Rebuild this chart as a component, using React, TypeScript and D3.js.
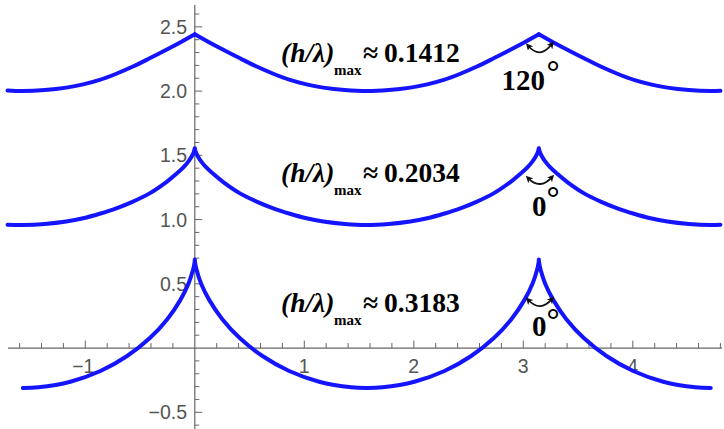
import React from "react";
import * as d3 from "d3";

// ---- data ----
const topX = [-1.71, -1.571, -1.37, -1.174, -1.02, -0.869, -0.717, -0.565, -0.413, -0.26, -0.13, 0, 0.13, 0.26, 0.413, 0.565, 0.717, 0.869, 1.02, 1.174, 1.37, 1.571, 1.772, 1.968, 2.122, 2.273, 2.425, 2.577, 2.729, 2.882, 3.012, 3.142, 3.272, 3.402, 3.555, 3.707, 3.859, 4.011, 4.162, 4.316, 4.512, 4.712, 4.8];
const topY = [2.004, 2.0, 2.008, 2.027, 2.052, 2.087, 2.135, 2.191, 2.255, 2.322, 2.381, 2.443, 2.381, 2.322, 2.255, 2.191, 2.135, 2.087, 2.052, 2.027, 2.008, 2.0, 2.008, 2.027, 2.052, 2.087, 2.135, 2.191, 2.255, 2.322, 2.381, 2.443, 2.381, 2.322, 2.255, 2.191, 2.135, 2.087, 2.052, 2.027, 2.008, 2.0, 2.002];

const midX = [-1.71, -1.571, -1.37, -1.174, -1.02, -0.869, -0.717, -0.565, -0.413, -0.26, -0.16, -0.1, -0.056, -0.026, -0.008, 0, 0.008, 0.026, 0.056, 0.1, 0.16, 0.26, 0.413, 0.565, 0.717, 0.869, 1.02, 1.174, 1.37, 1.571, 1.772, 1.968, 2.122, 2.273, 2.425, 2.577, 2.729, 2.882, 2.982, 3.042, 3.086, 3.116, 3.134, 3.142, 3.15, 3.168, 3.198, 3.242, 3.302, 3.402, 3.555, 3.707, 3.859, 4.011, 4.162, 4.316, 4.512, 4.712, 4.8];
const midY = [0.96, 0.958, 0.966, 0.985, 1.01, 1.045, 1.087, 1.14, 1.204, 1.292, 1.362, 1.41, 1.455, 1.495, 1.528, 1.555, 1.528, 1.495, 1.455, 1.41, 1.362, 1.292, 1.204, 1.14, 1.087, 1.045, 1.01, 0.985, 0.966, 0.958, 0.966, 0.985, 1.01, 1.045, 1.087, 1.14, 1.204, 1.292, 1.362, 1.41, 1.455, 1.495, 1.528, 1.555, 1.528, 1.495, 1.455, 1.41, 1.362, 1.292, 1.204, 1.14, 1.087, 1.045, 1.01, 0.985, 0.966, 0.958, 0.96];

const botX = [-1.571, -1.429, -1.136, -0.862, -0.618, -0.413, -0.251, -0.134, -0.058, -0.018, -0.002, 0, 0.002, 0.018, 0.058, 0.134, 0.251, 0.413, 0.618, 0.862, 1.136, 1.429, 1.571, 1.713, 2.006, 2.28, 2.524, 2.729, 2.891, 3.008, 3.084, 3.124, 3.14, 3.142, 3.144, 3.16, 3.2, 3.276, 3.393, 3.555, 3.76, 4.004, 4.278, 4.571, 4.712];
const botY = [-0.31, -0.305, -0.262, -0.179, -0.062, 0.076, 0.225, 0.371, 0.501, 0.603, 0.668, 0.69, 0.668, 0.603, 0.501, 0.371, 0.225, 0.076, -0.062, -0.179, -0.262, -0.305, -0.31, -0.305, -0.262, -0.179, -0.062, 0.076, 0.225, 0.371, 0.501, 0.603, 0.668, 0.69, 0.668, 0.603, 0.501, 0.371, 0.225, 0.076, -0.062, -0.179, -0.262, -0.305, -0.31];

const xTickValues = [-1, 1, 2, 3, 4];
const xTickLabels = ["\u22121", "1", "2", "3", "4"];
const yTickValues = [-0.5, 0.5, 1.0, 1.5, 2.0, 2.5];
const yTickLabels = ["\u22120.5", "0.5", "1.0", "1.5", "2.0", "2.5"];

const ratioValues = ["0.1412", "0.2034", "0.3183"];
const angleValues = ["120", "0", "0"];

const W = 724;
const H = 429;

type P = [number, number];

function splitAtCrests(pts: P[]): P[][] {
  const out: P[][] = [];
  let cur: P[] = [pts[0]];
  for (let i = 1; i < pts.length; i++) {
    cur.push(pts[i]);
    const isCrest = i < pts.length - 1 && pts[i][1] > pts[i - 1][1] && pts[i][1] > pts[i + 1][1];
    if (isCrest) {
      out.push(cur);
      cur = [pts[i]];
    }
  }
  out.push(cur);
  return out;
}

export default function App() {
  const x = d3.scaleLinear().domain([-1.7, 4.8]).range([8.65, 720.4]);
  const y = d3.scaleLinear().domain([-0.63, 2.67]).range([429, 5]);
  const x0 = x(0);
  const y0 = y(0);

  const line = d3
    .line<P>()
    .x((d) => x(d[0]))
    .y((d) => y(d[1]))
    .curve(d3.curveCatmullRom.alpha(0.5));

  const series: P[][] = [
    topX.map((v, i) => [v, topY[i]] as P),
    midX.map((v, i) => [v, midY[i]] as P),
    botX.map((v, i) => [v, botY[i]] as P),
  ];

  const xMinor = d3.range(-16, 49, 2).map((v) => v / 10).filter((v) => Math.abs(v - Math.round(v)) > 1e-6);
  const yMinor = d3.range(-6, 27, 1).map((v) => v / 10).filter((v) => Math.abs(v * 2 - Math.round(v * 2)) > 1e-6);

  const axisColor = "#666";
  const labelColor = "#555";
  const blue = "#1414ff";
  const serif = "'Liberation Serif', 'Times New Roman', serif";
  const sans = "'Liberation Sans', Arial, sans-serif";

  const annBase = [62, 182, 312];
  const angleBase = [90, 216, 336];
  const degBase = [83, 209, 331];
  const arrowY = [
    [46, 59.4, 44.3],
    [178.3, 190.2, 177.3],
    [300, 312.4, 299.3],
  ];

  return (
    <svg width={W} height={H} style={{ position: "absolute", left: 0, top: 0 }}>
      <defs>
        <marker id="ah" viewBox="0 0 8 8" refX="4" refY="4" markerWidth="7" markerHeight="7" markerUnits="userSpaceOnUse" orient="auto-start-reverse">
          <path d="M0,0 L8,4 L0,8 L2,4 Z" fill="#111" />
        </marker>
      </defs>
      {/* axes */}
      <line x1={8} x2={722} y1={y0} y2={y0} stroke={axisColor} strokeWidth={1.2} />
      <line x1={x0} x2={x0} y1={5} y2={429} stroke={axisColor} strokeWidth={1.2} />
      {xMinor.map((v) => (
        <line key={"xm" + v} x1={x(v)} x2={x(v)} y1={y0} y2={y0 - 5} stroke={axisColor} strokeWidth={1} />
      ))}
      {xTickValues.map((v, i) => (
        <g key={"xt" + v}>
          <line x1={x(v)} x2={x(v)} y1={y0} y2={y0 - 7.5} stroke={axisColor} strokeWidth={1} />
          <text x={x(v) - (v < 0 ? 2 : 0)} y={373} textAnchor="middle" fontFamily={sans} fontSize={19.5} fill={labelColor}>
            {xTickLabels[i]}
          </text>
        </g>
      ))}
      {yMinor.map((v) => (
        <line key={"ym" + v} x1={x0} x2={x0 + 4.5} y1={y(v)} y2={y(v)} stroke={axisColor} strokeWidth={1} />
      ))}
      {yTickValues.map((v, i) => (
        <g key={"yt" + v}>
          <line x1={x0} x2={x0 + 7.5} y1={y(v)} y2={y(v)} stroke={axisColor} strokeWidth={1} />
          <text x={187} y={y(v) + 7} textAnchor="end" fontFamily={sans} fontSize={19.5} fill={labelColor}>
            {yTickLabels[i]}
          </text>
        </g>
      ))}
      {/* curves */}
      {series.map((s, i) => (
        <path
          key={"s" + i}
          d={splitAtCrests(s).map((seg) => line(seg) || "").join("")}
          fill="none"
          stroke={blue}
          strokeWidth={4}
          strokeLinejoin="round"
          strokeLinecap="round"
        />
      ))}
      {/* annotations */}
      {ratioValues.map((r, i) => (
        <g key={"ann" + i} fontFamily={serif} fontWeight="bold" fill="#000">
          <text x={281} y={annBase[i]} fontSize={27.5} fontStyle="italic">(h/λ)</text>
          <text x={334} y={annBase[i] + 13} fontSize={15}>max</text>
          <text x={363} y={annBase[i]} fontSize={27.5}>≈</text>
          <text x={384} y={annBase[i]} fontSize={27.5}>{r}</text>
        </g>
      ))}
      {angleValues.map((a, i) => (
        <g key={"ang" + i} fontFamily={serif} fontWeight="bold" fill="#000">
          <text x={i === 0 ? 501.5 : 532} y={angleBase[i]} fontSize={29}>{a}</text>
          <text x={546.5} y={degBase[i]} fontSize={33}>°</text>
          <path
            d={`M528.3,${arrowY[i][0]} Q540,${arrowY[i][1]} 551.7,${arrowY[i][2]}`}
            fill="none"
            stroke="#111"
            strokeWidth={1.8}
            markerStart="url(#ah)"
            markerEnd="url(#ah)"
          />
        </g>
      ))}
    </svg>
  );
}
